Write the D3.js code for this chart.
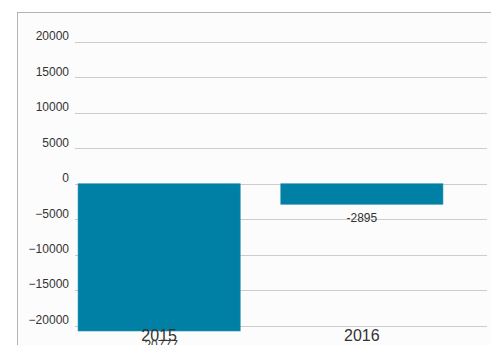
<!DOCTYPE html>
<html>
<head>
<meta charset="utf-8">
<script src="https://cdn.jsdelivr.net/npm/d3@7/dist/d3.min.js"></script>
<style>
  html, body { margin: 0; padding: 0; background: #ffffff; }
  svg { display: block; font-family: "Liberation Sans", Arial, sans-serif; }
</style>
</head>
<body>
<svg id="chart" width="491" height="345"></svg>
<script>
// Yearly values
const years = ["2015", "2016"];
const values = [-20777, -2895];
const yTicks = [20000, 15000, 10000, 5000, 0, -5000, -10000, -15000, -20000];

const svg = d3.select("#chart");
const W = 491, H = 345;

// Panel frame and background
svg.append("rect").attr("x", 17.5).attr("y", 12.5).attr("width", W).attr("height", H)
  .attr("fill", "#fcfcfc").attr("stroke", "#b4b4b4").attr("stroke-width", 1);

const x = d3.scaleBand().domain(years).range([75, 446]).paddingInner(0.2).paddingOuter(0.015);
const y = d3.scaleLinear().domain([-20000, 20000]).range([325.5, 42]);

// Horizontal gridlines with value labels
const yAxis = d3.axisLeft(y).tickValues(yTicks).tickSize(0).tickPadding(0).tickFormat(d3.format("d"));
const gy = svg.append("g").attr("transform", "translate(69,0)").call(yAxis);
gy.select(".domain").remove();
gy.selectAll("text").attr("fill", "#333").attr("font-size", 12).attr("dy", "-0.18em");

svg.append("g").selectAll("line").data(yTicks).join("line")
  .attr("x1", 75).attr("x2", 487)
  .attr("y1", d => Math.round(y(d)) + 0.5).attr("y2", d => Math.round(y(d)) + 0.5)
  .attr("stroke", "#cccccc").attr("stroke-width", 1);

// Bars
svg.append("g").selectAll("rect").data(values).join("rect")
  .attr("x", (d, i) => x(years[i]))
  .attr("width", x.bandwidth())
  .attr("y", d => y(Math.max(0, d)))
  .attr("height", d => Math.abs(y(d) - y(0)))
  .attr("fill", "#0080a5").attr("stroke", "#2a93b2").attr("stroke-width", 0.6);

// Value labels under each bar
svg.append("g").selectAll("text").data(values).join("text")
  .attr("x", (d, i) => x(years[i]) + x.bandwidth() / 2)
  .attr("y", d => y(d) + 18)
  .attr("text-anchor", "middle").attr("font-size", 12).attr("fill", "#333")
  .text(d => d);

// Category labels
const xAxis = d3.axisBottom(x).tickSize(0).tickPadding(0);
const gx = svg.append("g").attr("transform", "translate(0,341)").call(xAxis);
gx.select(".domain").remove();
gx.selectAll("text").attr("fill", "#333").attr("font-size", 16).attr("dy", 0)
  .attr("font-family", "\"Liberation Sans\", Arial, sans-serif");
</script>
</body>
</html>
